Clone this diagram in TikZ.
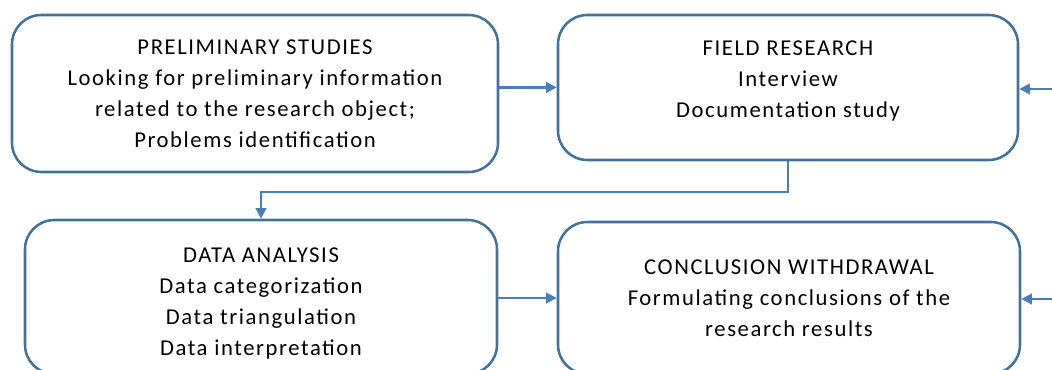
\documentclass[tikz,border=0pt]{standalone}
\usepackage{fontspec}
\setmainfont[LetterSpace=7]{Carlito}
\usetikzlibrary{arrows.meta}
\definecolor{boxline}{RGB}{65,113,156}
\definecolor{arrline}{RGB}{74,126,187}

\begin{document}
\begin{tikzpicture}[x=0.75pt,y=-0.75pt,
        stage/.style={draw=boxline, line width=1.9pt, rounded corners=22pt, align=center,
            font=\fontsize{17}{23.25}\selectfont, text=black},
        flow/.style={draw=arrline, line width=1.6pt, -{Triangle[length=8pt,width=8pt]}}]
        \useasboundingbox (0,0) rectangle (1052,370);

        \node[stage, minimum width=364.5pt, minimum height=117.75pt] (ps) at (255,93.5)
            {PRELIMINARY STUDIES\\Looking for preliminary information\\related to the research object;\\Problems identification};
        \node[stage, minimum width=345pt, minimum height=108.75pt] (fr) at (788,87.5)
            {FIELD RESEARCH\\Interview\\Documentation study\\[-11pt]\mbox{}};
        \node[stage, minimum width=354pt, minimum height=115.5pt] (da) at (261,297)
            {\rule{0pt}{21pt}DATA ANALYSIS\\Data categorization\\Data triangulation\\Data interpretation};
        \node[stage, minimum width=346.5pt, minimum height=114pt] (cw) at (789,298)
            {CONCLUSION WITHDRAWAL\\Formulating conclusions of the\\research results};

        \coordinate (frin) at (1052,89);
        \coordinate (cwin) at (1052,299);

        \draw[flow] (ps.east |- fr.west) -- (fr.west);
        \draw[flow] (da.east |- cw.west) -- (cw.west);
        \draw[flow] (frin) -- (frin -| fr.east);
        \draw[flow] (cwin) -- (cwin -| cw.east);
        \draw[flow] (fr.south) -- ++(0,31) -| (da.north);
    \end{tikzpicture}
\end{document}
